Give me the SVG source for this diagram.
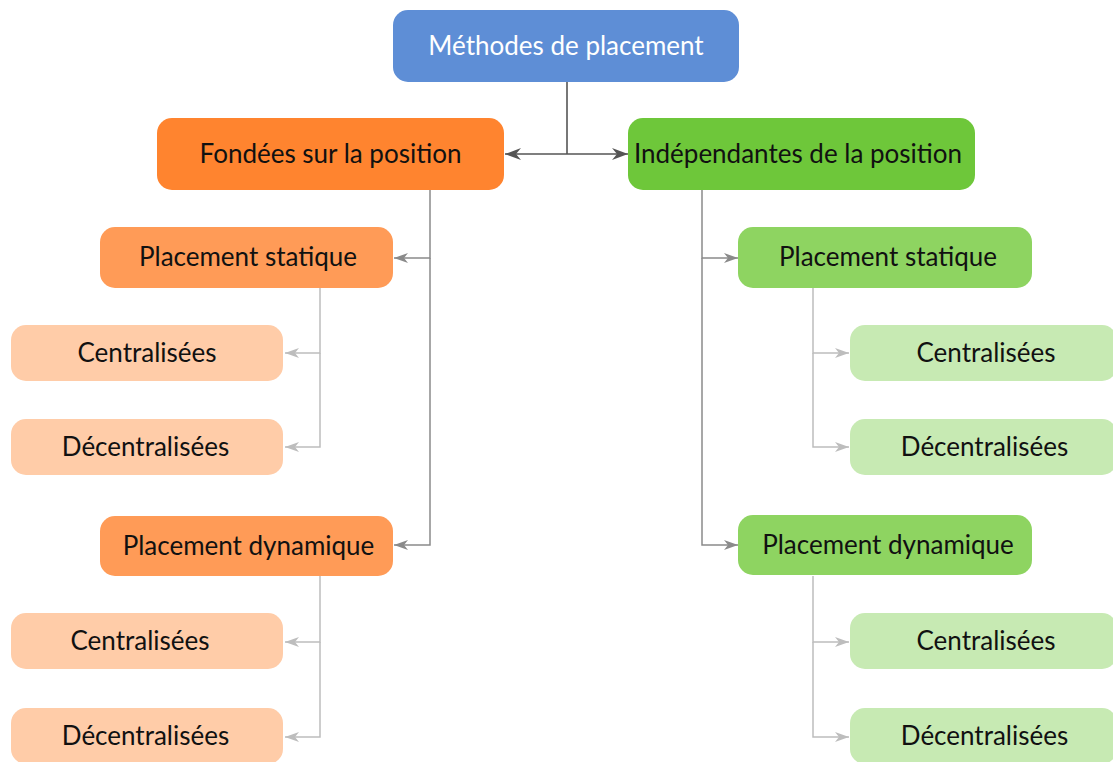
<svg xmlns="http://www.w3.org/2000/svg" width="1113" height="762" viewBox="0 0 1113 762">
<style>
text{font-family:Lato,"Open Sans","DejaVu Sans",sans-serif;font-size:26px;text-anchor:middle;fill:#111}
.root rect{fill:#5E8ED6}
.root text{fill:#fff}
.o1 rect{fill:#FF842F}
.o2 rect{fill:#FF9B57}
.o3 rect{fill:#FFCCA8}
.g1 rect{fill:#6EC73A}
.g2 rect{fill:#8ED461}
.g3 rect{fill:#C7EAB3}
.c1{stroke:#555;stroke-width:1.6;fill:none}
.c2{stroke:#8a8a8a;stroke-width:1.5;fill:none}
.c3{stroke:#bdbdbd;stroke-width:1.5;fill:none}
</style>
<defs>
<marker id="a1" viewBox="0 0 16 12" refX="16" refY="6" markerWidth="16" markerHeight="12" markerUnits="userSpaceOnUse" orient="auto"><path d="M0,0 L16,6 L0,12 L5,6 Z" fill="#555"/></marker>
<marker id="a2" viewBox="0 0 14 10" refX="14" refY="5" markerWidth="14" markerHeight="10" markerUnits="userSpaceOnUse" orient="auto"><path d="M0,0 L14,5 L0,10 L4,5 Z" fill="#8a8a8a"/></marker>
<marker id="a3" viewBox="0 0 14 10" refX="14" refY="5" markerWidth="14" markerHeight="10" markerUnits="userSpaceOnUse" orient="auto"><path d="M0,0 L14,5 L0,10 L4,5 Z" fill="#bdbdbd"/></marker>
</defs>
<g id="connectors">
<path class="c1" d="M567,82 V154"/>
<path class="c1" d="M567,154 H505" marker-end="url(#a1)"/>
<path class="c1" d="M567,154 H628" marker-end="url(#a1)"/>
<path class="c2" d="M430,190 V258 H394" marker-end="url(#a2)"/>
<path class="c2" d="M430,258 V545 H394" marker-end="url(#a2)"/>
<path class="c2" d="M702,190 V258 H738" marker-end="url(#a2)"/>
<path class="c2" d="M702,258 V545 H738" marker-end="url(#a2)"/>
<path class="c3" d="M320,288 V353 H285" marker-end="url(#a3)"/>
<path class="c3" d="M320,353 V447 H285" marker-end="url(#a3)"/>
<path class="c3" d="M320,576 V642 H285" marker-end="url(#a3)"/>
<path class="c3" d="M320,642 V737 H285" marker-end="url(#a3)"/>
<path class="c3" d="M813,288 V353 H849" marker-end="url(#a3)"/>
<path class="c3" d="M813,353 V447 H849" marker-end="url(#a3)"/>
<path class="c3" d="M813,576 V642 H849" marker-end="url(#a3)"/>
<path class="c3" d="M813,642 V737 H849" marker-end="url(#a3)"/>
</g>
<g id="root" class="root"><rect x="393" y="10" width="346" height="72" rx="15"/><text x="566" y="55">Méthodes de placement</text></g>
<g id="fondees" class="o1"><rect x="157" y="118" width="347" height="72" rx="15"/><text x="330.5" y="163">Fondées sur la position</text></g>
<g id="independantes" class="g1"><rect x="628" y="118" width="347" height="72" rx="15"/><text x="798" y="163">Indépendantes de la position</text></g>
<g id="fp-statique" class="o2"><rect x="100" y="227" width="293" height="61" rx="15"/><text x="248" y="266">Placement statique</text></g>
<g id="fp-dynamique" class="o2"><rect x="100" y="516" width="293" height="60" rx="15"/><text x="248.5" y="555">Placement dynamique</text></g>
<g id="fps-centr" class="o3"><rect x="11" y="325" width="272" height="56" rx="15"/><text x="147" y="362">Centralisées</text></g>
<g id="fps-decentr" class="o3"><rect x="11" y="419" width="272" height="56" rx="15"/><text x="145.5" y="456">Décentralisées</text></g>
<g id="fpd-centr" class="o3"><rect x="11" y="613" width="272" height="56" rx="15"/><text x="140" y="650">Centralisées</text></g>
<g id="fpd-decentr" class="o3"><rect x="11" y="708" width="272" height="56" rx="15"/><text x="145.5" y="745">Décentralisées</text></g>
<g id="ip-statique" class="g2"><rect x="738" y="227" width="294" height="61" rx="15"/><text x="888" y="266">Placement statique</text></g>
<g id="ip-dynamique" class="g2"><rect x="738" y="515" width="294" height="60" rx="15"/><text x="888" y="554">Placement dynamique</text></g>
<g id="ips-centr" class="g3"><rect x="850" y="325" width="267" height="56" rx="15"/><text x="986" y="362">Centralisées</text></g>
<g id="ips-decentr" class="g3"><rect x="850" y="419" width="267" height="56" rx="15"/><text x="984.5" y="456">Décentralisées</text></g>
<g id="ipd-centr" class="g3"><rect x="850" y="613" width="267" height="56" rx="15"/><text x="986" y="650">Centralisées</text></g>
<g id="ipd-decentr" class="g3"><rect x="850" y="708" width="267" height="56" rx="15"/><text x="984.5" y="745">Décentralisées</text></g>
</svg>
